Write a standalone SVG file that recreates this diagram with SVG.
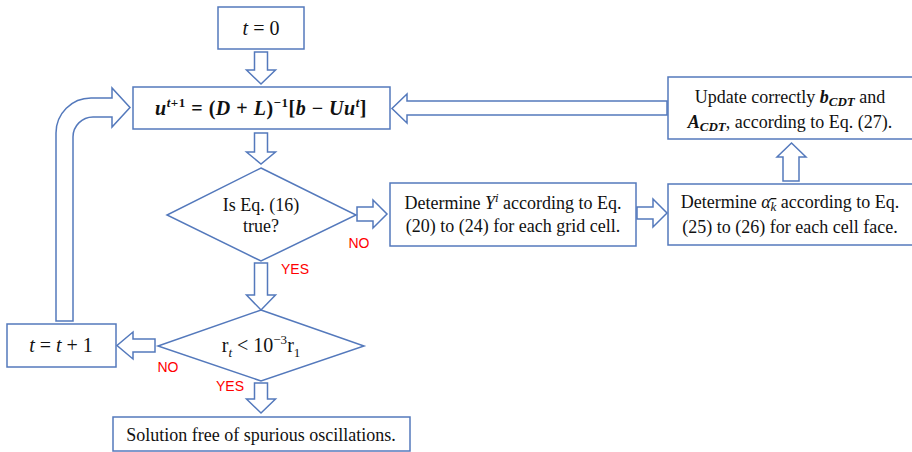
<svg xmlns="http://www.w3.org/2000/svg" width="912" height="452" viewBox="0 0 912 452">
<style>
.box{fill:#fff;stroke:#5479BC;stroke-width:1.5}
.arr{fill:#fff;stroke:#5479BC;stroke-width:1.5;stroke-linejoin:miter}
.t{font-family:"Liberation Serif","Times New Roman",serif;font-size:18px;fill:#111;text-anchor:middle}
.m{font-family:"Liberation Serif","Times New Roman",serif;font-size:20px;fill:#111;text-anchor:middle}
.lab{font-family:"Liberation Sans",Arial,sans-serif;font-size:14px;fill:#F00;text-anchor:middle}
.i{font-style:italic}
.bi{font-style:italic;font-weight:bold}
.s{font-size:13px}
</style>
<rect width="912" height="452" fill="#fff"/>
<g id="connectors">
  <path class="arr" d="M254.5,52 H267.5 V70 H275.5 L261,84 L246.5,70 H254.5 Z"/>
  <path class="arr" d="M254.5,133 H267.5 V152 H275.5 L261,164 L246.5,152 H254.5 Z"/>
  <path class="arr" d="M254.5,263 H267.5 V295 H275.5 L261,310 L246.5,295 H254.5 Z"/>
  <path class="arr" d="M254.5,383 H267.5 V399 H275.5 L261,413 L246.5,399 H254.5 Z"/>
  <path class="arr" d="M357,207 H373 V200 L387,214 L373,228 V221 H357 Z"/>
  <path class="arr" d="M637,207 H653 V199 L667,213 L653,227 V219 H637 Z"/>
  <path class="arr" d="M155,339 H133 V332 L117,345.5 L133,359 V352 H155 Z"/>
  <path class="arr" d="M667,101 H407 V94 L392,108.5 L407,123 V115 H667 Z"/>
  <path class="arr" d="M783,181 V157 H777 L791.5,143 L806,157 H799 V181 Z"/>
  <path class="arr" d="M56,321 V133 A35,35 0 0 1 91,98 H112 V88 L130,107.5 L112,127 V117 H93 A20,20 0 0 0 73,137 V321 Z"/>
  <text class="lab" x="295" y="274">YES</text>
  <text class="lab" x="359" y="248">NO</text>
  <text class="lab" x="168" y="372">NO</text>
  <text class="lab" x="230" y="391">YES</text>
</g>
<g id="start">
  <rect class="box" x="218" y="7" width="86" height="42"/>
  <text class="m" x="261" y="35"><tspan class="i">t</tspan> = 0</text>
</g>
<g id="update-u">
  <rect class="box" x="133" y="87" width="257" height="42"/>
  <text class="m" x="261" y="115" font-weight="bold" letter-spacing="0.5"><tspan class="bi">u</tspan><tspan class="s" dy="-8"><tspan class="bi">t</tspan>+1</tspan><tspan dy="8"> = (</tspan><tspan class="bi">D</tspan> + <tspan class="bi">L</tspan>)<tspan class="s" dy="-8">−1</tspan><tspan dy="8">[</tspan><tspan class="bi">b</tspan> − <tspan class="bi">Uu</tspan><tspan class="s bi" dy="-8">t</tspan><tspan dy="8">]</tspan></text>
</g>
<g id="update-cdt">
  <rect class="box" x="668" y="77" width="250" height="62"/>
  <text class="t" x="790" y="103">Update correctly <tspan class="bi">b</tspan><tspan class="s bi" dy="3">CDT</tspan><tspan dy="-3"> and</tspan></text>
  <text class="t" x="790" y="128"><tspan class="bi">A</tspan><tspan class="s bi" dy="3">CDT</tspan><tspan dy="-3">, according to Eq. (27).</tspan></text>
</g>
<g id="check16">
  <polygon class="box" points="261,168 356,215 261,261 167,215"/>
  <text class="t" x="261" y="211">Is Eq. (16)</text>
  <text class="t" x="261" y="232">true?</text>
</g>
<g id="determine-y">
  <rect class="box" x="390" y="183" width="246" height="63"/>
  <text class="t" x="513" y="209">Determine <tspan class="i">Y</tspan><tspan class="s i" dy="-7">i</tspan><tspan dy="7"> according to Eq.</tspan></text>
  <text class="t" x="513" y="232">(20) to (24) for each grid cell.</text>
</g>
<g id="determine-alpha">
  <rect class="box" x="668" y="184" width="250" height="61"/>
  <text class="t" x="790" y="208">Determine <tspan class="i">α</tspan><tspan class="s i" dy="3" text-decoration="overline">k</tspan><tspan dy="-3"> according to Eq.</tspan></text>
  <text class="t" x="790" y="233">(25) to (26) for each cell face.</text>
</g>
<g id="check-residual">
  <polygon class="box" points="261,310 364,346 261,381 158,346"/>
  <text class="m" x="261" y="352">r<tspan class="s i" dy="5">t</tspan><tspan dy="-5"> &lt; 10</tspan><tspan class="s" dy="-8">−3</tspan><tspan dy="8">r</tspan><tspan class="s" dy="5">1</tspan></text>
</g>
<g id="increment">
  <rect class="box" x="7" y="324" width="109" height="43"/>
  <text class="m" x="61" y="352"><tspan class="i">t</tspan> = <tspan class="i">t</tspan> + 1</text>
</g>
<g id="solution">
  <rect class="box" x="113" y="417" width="297" height="34"/>
  <text class="t" x="261" y="441">Solution free of spurious oscillations.</text>
</g>
</svg>
